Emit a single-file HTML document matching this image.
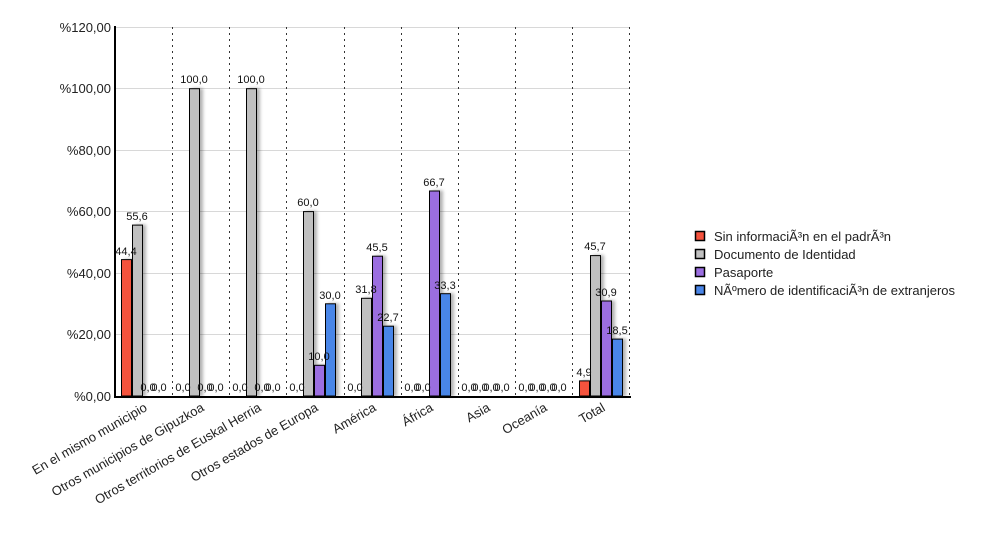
<!DOCTYPE html>
<html><head><meta charset="utf-8"><style>
html,body{margin:0;padding:0;background:#fff;}
svg{display:block;font-family:"Liberation Sans",Arial,sans-serif;}
</style></head><body>
<svg width="1000" height="550" viewBox="0 0 1000 550" xmlns="http://www.w3.org/2000/svg">
<defs>
<filter id="sh" x="-50%" y="-10%" width="200%" height="120%"><feDropShadow dx="3" dy="0" stdDeviation="1.5" flood-color="#000" flood-opacity="0.3"/></filter>
</defs>
<g stroke="#d8d8d8" stroke-width="1">
<line x1="115" y1="27.5" x2="630" y2="27.5"/>
<line x1="115" y1="88.5" x2="630" y2="88.5"/>
<line x1="115" y1="150.5" x2="630" y2="150.5"/>
<line x1="115" y1="211.5" x2="630" y2="211.5"/>
<line x1="115" y1="273.5" x2="630" y2="273.5"/>
<line x1="115" y1="334.5" x2="630" y2="334.5"/>
</g>
<g stroke="#333" stroke-width="1" stroke-dasharray="2,4">
<line x1="172.5" y1="27" x2="172.5" y2="396"/>
<line x1="229.5" y1="27" x2="229.5" y2="396"/>
<line x1="286.5" y1="27" x2="286.5" y2="396"/>
<line x1="344.5" y1="27" x2="344.5" y2="396"/>
<line x1="401.5" y1="27" x2="401.5" y2="396"/>
<line x1="458.5" y1="27" x2="458.5" y2="396"/>
<line x1="515.5" y1="27" x2="515.5" y2="396"/>
<line x1="572.5" y1="27" x2="572.5" y2="396"/>
<line x1="629.5" y1="27" x2="629.5" y2="396"/>
</g>
<g font-size="13" fill="#222" text-anchor="end">
<text x="111" y="32">%120,00</text>
<text x="111" y="93">%100,00</text>
<text x="111" y="155">%80,00</text>
<text x="111" y="216">%60,00</text>
<text x="111" y="278">%40,00</text>
<text x="111" y="339">%20,00</text>
<text x="111" y="401">%0,00</text>
</g>
<g stroke="#000" stroke-width="1" filter="url(#sh)">
<rect x="121.5" y="259.6" width="10" height="136.4" fill="#f5533d"/>
<rect x="132.5" y="225.1" width="10" height="170.9" fill="#c0c0c0"/>
<rect x="189.5" y="88.7" width="10" height="307.3" fill="#c0c0c0"/>
<rect x="246.5" y="88.7" width="10" height="307.3" fill="#c0c0c0"/>
<rect x="303.5" y="211.6" width="10" height="184.4" fill="#c0c0c0"/>
<rect x="314.5" y="365.3" width="10" height="30.7" fill="#9b6ee0"/>
<rect x="325.5" y="303.8" width="10" height="92.2" fill="#4a86e8"/>
<rect x="361.5" y="298.3" width="10" height="97.7" fill="#c0c0c0"/>
<rect x="372.5" y="256.2" width="10" height="139.8" fill="#9b6ee0"/>
<rect x="383.5" y="326.2" width="10" height="69.8" fill="#4a86e8"/>
<rect x="429.5" y="191" width="10" height="205" fill="#9b6ee0"/>
<rect x="440.5" y="293.7" width="10" height="102.3" fill="#4a86e8"/>
<rect x="579.5" y="380.9" width="10" height="15.1" fill="#f5533d"/>
<rect x="590.5" y="255.6" width="10" height="140.4" fill="#c0c0c0"/>
<rect x="601.5" y="301" width="10" height="95" fill="#9b6ee0"/>
<rect x="612.5" y="339.1" width="10" height="56.9" fill="#4a86e8"/>
</g>
<g stroke="#000" stroke-width="2">
<line x1="115" y1="26" x2="115" y2="398"/>
<line x1="114" y1="397" x2="631" y2="397"/>
</g>
<g font-size="11" fill="#111" text-anchor="middle">
<text x="126" y="255">44,4</text>
<text x="137" y="220">55,6</text>
<text x="148" y="391">0,0</text>
<text x="159" y="391">0,0</text>
<text x="183" y="391">0,0</text>
<text x="194" y="83">100,0</text>
<text x="205" y="391">0,0</text>
<text x="216" y="391">0,0</text>
<text x="240" y="391">0,0</text>
<text x="251" y="83">100,0</text>
<text x="262" y="391">0,0</text>
<text x="273" y="391">0,0</text>
<text x="297" y="391">0,0</text>
<text x="308" y="206">60,0</text>
<text x="319" y="360">10,0</text>
<text x="330" y="299">30,0</text>
<text x="355" y="391">0,0</text>
<text x="366" y="293">31,8</text>
<text x="377" y="251">45,5</text>
<text x="388" y="321">22,7</text>
<text x="412" y="391">0,0</text>
<text x="423" y="391">0,0</text>
<text x="434" y="186">66,7</text>
<text x="445" y="289">33,3</text>
<text x="469" y="391">0,0</text>
<text x="480" y="391">0,0</text>
<text x="491" y="391">0,0</text>
<text x="502" y="391">0,0</text>
<text x="526" y="391">0,0</text>
<text x="537" y="391">0,0</text>
<text x="548" y="391">0,0</text>
<text x="559" y="391">0,0</text>
<text x="584" y="376">4,9</text>
<text x="595" y="250">45,7</text>
<text x="606" y="296">30,9</text>
<text x="617" y="334">18,5</text>
</g>
<g font-size="13" fill="#222" text-anchor="end">
<text transform="translate(148,410) rotate(-30)">En el mismo municipio</text>
<text transform="translate(205,410) rotate(-30)">Otros municipios de Gipuzkoa</text>
<text transform="translate(262,410) rotate(-30)">Otros territorios de Euskal Herria</text>
<text transform="translate(319,410) rotate(-30)">Otros estados de Europa</text>
<text transform="translate(377,410) rotate(-30)">América</text>
<text transform="translate(434,410) rotate(-30)">África</text>
<text transform="translate(491,410) rotate(-30)">Asia</text>
<text transform="translate(548,410) rotate(-30)">Oceanía</text>
<text transform="translate(606,410) rotate(-30)">Total</text>
</g>
<g stroke="#000" stroke-width="1.5">
<rect x="695.5" y="231.5" width="9" height="9" fill="#f5533d"/>
<rect x="695.5" y="249.5" width="9" height="9" fill="#c0c0c0"/>
<rect x="695.5" y="267.5" width="9" height="9" fill="#9b6ee0"/>
<rect x="695.5" y="285.5" width="9" height="9" fill="#4a86e8"/>
</g>
<g font-size="13" fill="#222">
<text x="714" y="241">Sin informaciÃ³n en el padrÃ³n</text>
<text x="714" y="259">Documento de Identidad</text>
<text x="714" y="277">Pasaporte</text>
<text x="714" y="295">NÃºmero de identificaciÃ³n de extranjeros</text>
</g>
</svg>
</body></html>
